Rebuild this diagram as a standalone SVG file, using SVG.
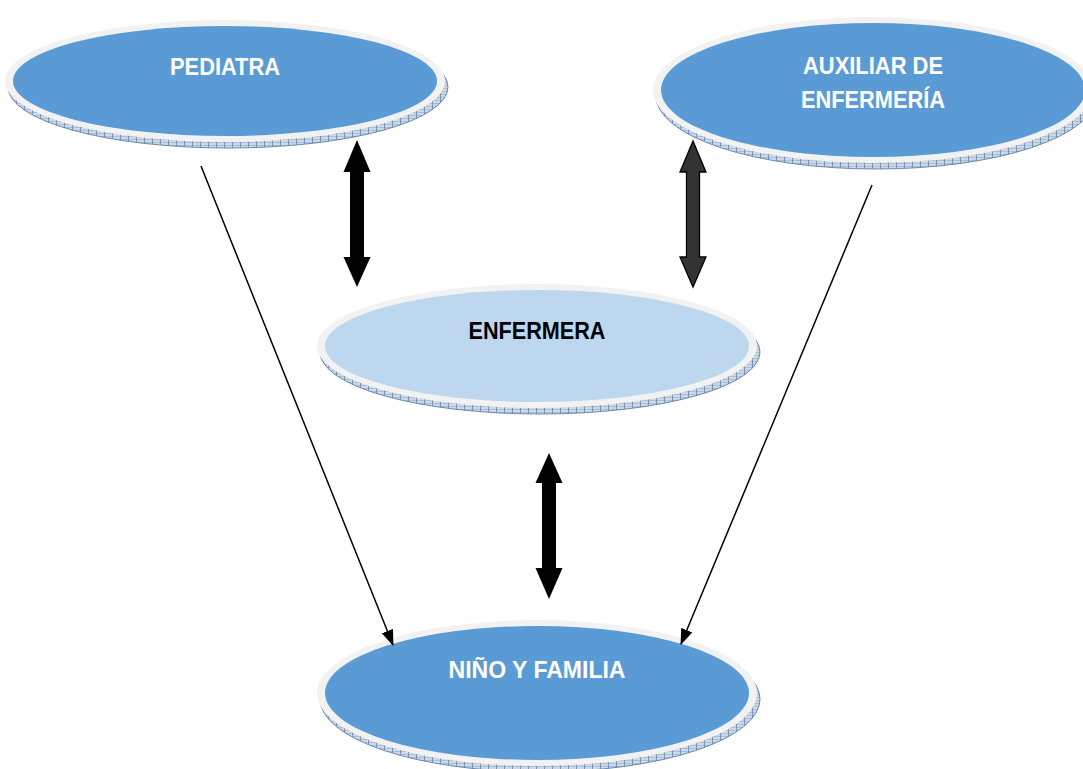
<svg xmlns="http://www.w3.org/2000/svg" width="1083" height="769" viewBox="0 0 1083 769">
  <defs>
    <!-- hatched texture for the bevelled rim under each disc -->
    <pattern id="rimHatch" width="8" height="3" patternUnits="userSpaceOnUse">
      <rect width="8" height="3" fill="#cdd8e4"/>
      <path d="M0 1.5H8" stroke="#93acc9" stroke-width="0.6"/>
      <path d="M0.5 0V3" stroke="#5479a6" stroke-width="0.7"/>
    </pattern>
    <marker id="arrowHead" viewBox="0 0 16 12" refX="15" refY="6" markerWidth="16" markerHeight="12" markerUnits="userSpaceOnUse" orient="auto">
      <path d="M0 0L16 6L0 12Z" fill="#000"/>
    </marker>
    <style>
      .rim { fill: url(#rimHatch); stroke: #5a7ea8; stroke-width: 0.9; }
      .ring { fill: #f2f2f2; }
      .disc { fill: #5b9bd5; }
      .disc-light { fill: #bdd7ee; }
      .label { font-family: "Liberation Sans", Arial, sans-serif; font-weight: bold; font-size: 24px; text-anchor: middle; fill: #ffffff; }
      .label-dark { fill: #000000; }
      .link { stroke: #000; stroke-width: 1.5; fill: none; marker-end: url(#arrowHead); }
      .dbl { fill: #000; }
      .dbl-grey { fill: #333333; stroke: #000; stroke-width: 1.3; }
    </style>
  </defs>
  <rect width="1083" height="769" fill="#ffffff"/>

  <g id="pediatra">
    <ellipse class="rim" cx="228" cy="87" rx="220" ry="61"/>
    <ellipse class="ring" cx="225" cy="81" rx="220" ry="61"/>
    <ellipse class="disc" cx="225" cy="81" rx="212" ry="55"/>
    <text class="label" x="225" y="75" textLength="110" lengthAdjust="spacingAndGlyphs">PEDIATRA</text>
  </g>

  <g id="auxiliar">
    <ellipse class="rim" cx="876" cy="96" rx="220" ry="73"/>
    <ellipse class="ring" cx="873" cy="90" rx="220" ry="73"/>
    <ellipse class="disc" cx="873" cy="90" rx="212" ry="67"/>
    <text class="label" x="873" y="74" textLength="140" lengthAdjust="spacingAndGlyphs">AUXILIAR DE</text>
    <text class="label" x="873" y="108" textLength="144" lengthAdjust="spacingAndGlyphs">ENFERMERÍA</text>
  </g>

  <g id="enfermera">
    <ellipse class="rim" cx="540" cy="352" rx="220" ry="62"/>
    <ellipse class="ring" cx="537" cy="346" rx="220" ry="62"/>
    <ellipse class="disc-light" cx="537" cy="346" rx="212" ry="56"/>
    <text class="label label-dark" x="537" y="339" textLength="137" lengthAdjust="spacingAndGlyphs">ENFERMERA</text>
  </g>

  <g id="nino-familia">
    <ellipse class="rim" cx="540" cy="699" rx="220" ry="73"/>
    <ellipse class="ring" cx="537" cy="693" rx="220" ry="73"/>
    <ellipse class="disc" cx="537" cy="693" rx="212" ry="67"/>
    <text class="label" x="537" y="678" textLength="177" lengthAdjust="spacingAndGlyphs">NIÑO Y FAMILIA</text>
  </g>

  <!-- connectors, drawn last so the arrow tips sit over the discs -->
  <g id="connectors">
    <line class="link" x1="201" y1="166" x2="393" y2="645"/>
    <line class="link" x1="872" y1="185" x2="681" y2="644"/>
    <!-- pediatra <-> enfermera -->
    <polygon class="dbl" points="357,140 370.5,172 364,172 364,257 370.5,257 357,287 343.5,257 350,257 350,172 343.5,172"/>
    <!-- auxiliar <-> enfermera -->
    <polygon class="dbl-grey" points="693,141 706,172 699.5,172 699.5,257 706,257 693,287 680,257 686.5,257 686.5,172 680,172"/>
    <!-- enfermera <-> niño y familia -->
    <polygon class="dbl" points="549,453 562.5,483 556,483 556,568 562.5,568 549,599 535.5,568 542,568 542,483 535.5,483"/>
  </g>
</svg>
